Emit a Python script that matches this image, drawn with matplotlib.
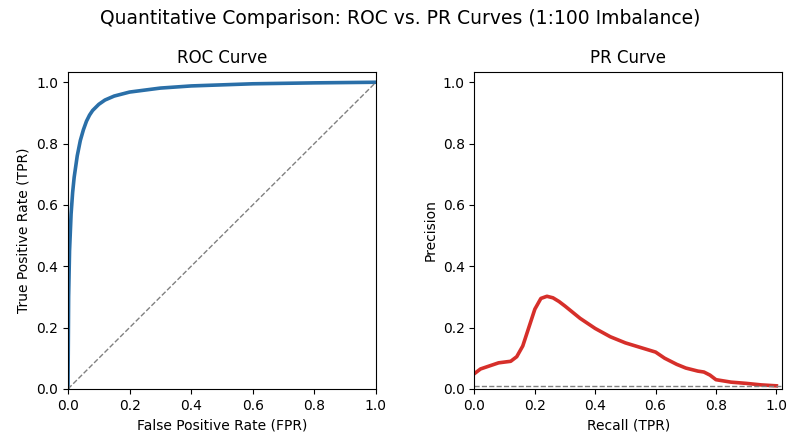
import numpy as np
import matplotlib
matplotlib.use("Agg")
import matplotlib.pyplot as plt

roc_fpr = [0, 0.002, 0.005, 0.01, 0.015, 0.02, 0.03, 0.04, 0.05, 0.06, 0.07, 0.08, 0.1, 0.12, 0.15, 0.2, 0.3, 0.4, 0.6, 0.8, 1.0]
roc_tpr = [0, 0.3, 0.45, 0.57, 0.64, 0.69, 0.76, 0.81, 0.845, 0.873, 0.893, 0.908, 0.928, 0.942, 0.955, 0.968, 0.981, 0.988, 0.995, 0.998, 1.0]

pr_recall = [0, 0.02, 0.05, 0.08, 0.12, 0.14, 0.16, 0.18, 0.2, 0.22, 0.24, 0.26, 0.28, 0.3, 0.35, 0.4, 0.45, 0.5, 0.55, 0.6, 0.63, 0.67, 0.7, 0.74, 0.76, 0.78, 0.8, 0.85, 0.9, 0.95, 1.0]
pr_prec = [0.05, 0.065, 0.075, 0.085, 0.09, 0.105, 0.14, 0.2, 0.26, 0.295, 0.302, 0.297, 0.285, 0.27, 0.23, 0.197, 0.17, 0.15, 0.135, 0.12, 0.1, 0.08, 0.068, 0.058, 0.055, 0.045, 0.03, 0.022, 0.018, 0.013, 0.01]
baseline = 1 / 101

fig, (ax1, ax2) = plt.subplots(1, 2, figsize=(8, 4.47), dpi=100)
fig.suptitle("Quantitative Comparison: ROC vs. PR Curves (1:100 Imbalance)", fontsize=13.5)

ax1.plot(roc_fpr, roc_tpr, color="#2a6fa8", lw=2.6, solid_joinstyle="round")
ax1.plot([0, 1], [0, 1], ls="--", color="gray", lw=1)
ax1.set_xlim(0, 1)
ax1.set_ylim(0, 1.035)
ax1.set_title("ROC Curve")
ax1.set_xlabel("False Positive Rate (FPR)")
ax1.set_ylabel("True Positive Rate (TPR)")

ax2.plot(pr_recall, pr_prec, color="#d62f2a", lw=2.6, solid_joinstyle="round")
ax2.axhline(baseline, ls="--", color="gray", lw=1)
ax2.set_xlim(0, 1.02)
ax2.set_ylim(0, 1.035)
ax2.set_title("PR Curve")
ax2.set_xlabel("Recall (TPR)")
ax2.set_ylabel("Precision")

fig.subplots_adjust(left=0.085, right=0.978, bottom=0.13, top=0.84, wspace=0.32)
fig.savefig("out.png", dpi=100)
